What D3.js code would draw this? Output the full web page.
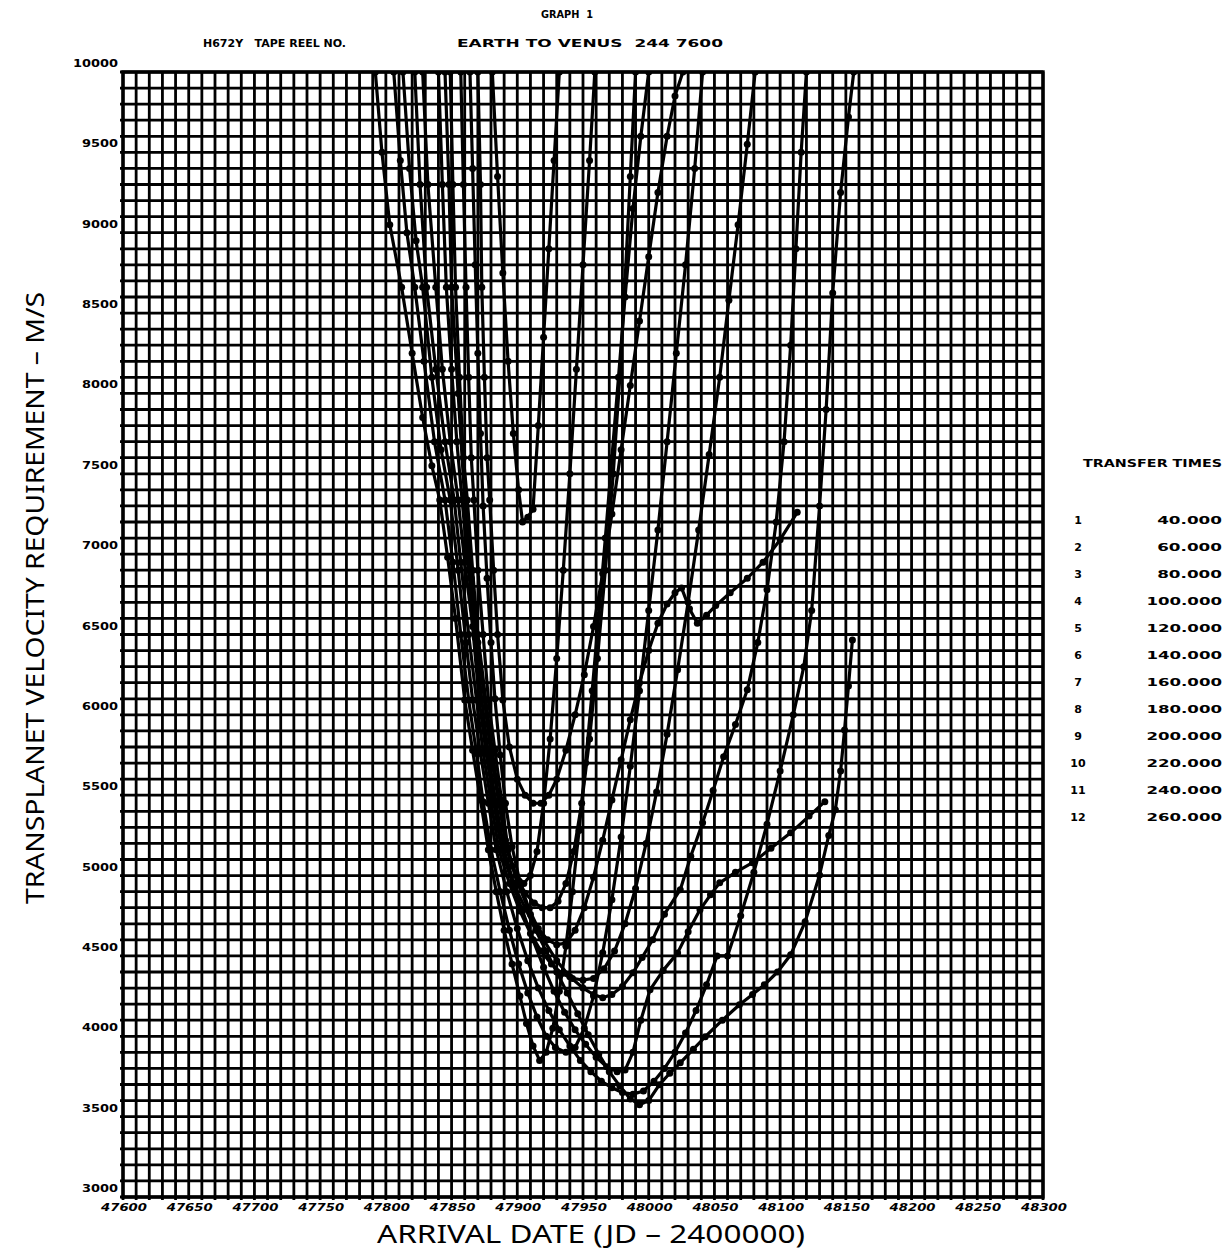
<!DOCTYPE html>
<html>
<head>
<meta charset="utf-8">
<script src="https://cdn.jsdelivr.net/npm/d3@7/dist/d3.min.js"></script>
<style>
  html, body { margin: 0; padding: 0; background: #fff; }
  svg { display: block; }
  .lbl { font-family: 'DejaVu Sans', sans-serif; font-weight: bold; font-size: 11px; fill: #000; white-space: pre; }
  .axis-title { font-family: 'Noto Sans', 'DejaVu Sans', sans-serif; font-size: 26px; fill: #000; }
</style>
</head>
<body>
<svg id="chart" width="1228" height="1256"></svg>
<script>
// tick labels
const xTicks = [47600, 47650, 47700, 47750, 47800, 47850, 47900, 47950, 48000, 48050, 48100, 48150, 48200, 48250, 48300];
const yTicks = [3000, 3500, 4000, 4500, 5000, 5500, 6000, 6500, 7000, 7500, 8000, 8500, 9000, 9500, 10000];

// legend
const legendNums = ['1', '2', '3', '4', '5', '6', '7', '8', '9', '10', '11', '12'];
const legendDays = ['40.000', '60.000', '80.000', '100.000', '120.000', '140.000', '160.000', '180.000', '200.000', '220.000', '240.000', '260.000'];

// curves: [arrival date (JD - 2400000), velocity m/s]
const curve01 = [[47881,10000],[47885,9350],[47889,8750],[47893,8200],[47897,7750],[47901,7400],[47904,7200],[47908,7230],[47912,7280],[47916,7800],[47920,8350],[47924,8900],[47928,9450],[47932,10000]];
const curve02 = [[47870,10000],[47872,9300],[47873,8660],[47875,8100],[47877,7600],[47879,7337],[47882,6900],[47885,6500],[47889,6093],[47894,5800],[47900,5600],[47906,5500],[47912,5450],[47918,5450],[47924,5500],[47930,5600],[47937,5780],[47944,6000],[47951,6250],[47958,6550],[47965,6880],[47972,7250],[47979,7650],[47986,8050],[47993,8450],[48000,8850],[48007,9250],[48014,9600],[48020,9850],[48026,10000]];
const curve03 = [[47849,10000],[47851,9300],[47853,8660],[47856,8100],[47859,7600],[47862,7337],[47866,6900],[47870,6500],[47876,6093],[47881,5780],[47886,5470],[47891,5220],[47896,5060],[47901,4970],[47905,4950],[47910,5000],[47915,5150],[47920,5450],[47925,5850],[47930,6350],[47935,6900],[47940,7500],[47945,8150],[47950,8800],[47955,9450],[47959,10000]];
const curve04 = [[47857,10000],[47859,9300],[47861,8660],[47863,8100],[47865,7600],[47867,7337],[47870,6900],[47874,6500],[47878,6093],[47883,5780],[47888,5470],[47893,5160],[47899,5000],[47906,4890],[47913,4830],[47919,4800],[47925,4800],[47931,4840],[47937,4950],[47943,5150],[47949,5450],[47955,5850],[47961,6350],[47967,6900],[47973,7500],[47978,8100],[47982,8700],[47986,9350],[47990,10000]];
const curve05 = [[47864,10000],[47866,9400],[47868,8800],[47870,8250],[47872,7750],[47874,7300],[47877,6850],[47880,6450],[47883,6100],[47887,5750],[47891,5450],[47896,5180],[47902,4960],[47909,4790],[47916,4670],[47923,4600],[47930,4570],[47937,4580],[47944,4660],[47951,4800],[47958,4990],[47965,5220],[47972,5470],[47979,5720],[47986,5970],[47993,6200],[48000,6400],[48007,6570],[48014,6690],[48020,6760],[48025,6790],[48031,6660],[48037,6570],[48044,6620],[48051,6680],[48062,6760],[48075,6850],[48087,6950],[48100,7090],[48113,7260]];
const curve06 = [[47822,10000],[47826,9300],[47831,8660],[47838,8150],[47845,7700],[47852,7337],[47857,6950],[47863,6500],[47869,6093],[47874,5770],[47880,5460],[47886,5160],[47894,4950],[47902,4780],[47910,4640],[47918,4530],[47926,4450],[47934,4390],[47942,4360],[47950,4350],[47958,4360],[47966,4420],[47974,4530],[47982,4700],[47990,4920],[47998,5200],[48006,5520],[48014,5880],[48022,6280],[48030,6700],[48038,7150],[48046,7620],[48054,8100],[48061,8580],[48068,9050],[48075,9550],[48081,10000]];
const curve07 = [[47845,10000],[47848,9300],[47850,8660],[47855,8000],[47860,7337],[47865,6850],[47870,6450],[47875,6093],[47880,5750],[47886,5450],[47892,5160],[47900,4960],[47910,4760],[47920,4600],[47930,4470],[47940,4370],[47950,4300],[47958,4260],[47965,4240],[47972,4260],[47980,4310],[47988,4395],[47995,4490],[48003,4601],[48012,4760],[48024,4912],[48032,5120],[48041,5329],[48049,5530],[48057,5739],[48066,5940],[48075,6156],[48083,6450],[48090,6778],[48097,7200],[48103,7700],[48108,8300],[48112,8900],[48116,9500],[48120,10000]];
const curve08 = [[47792,10000],[47797,9500],[47803,9050],[47812,8660],[47820,8250],[47828,7850],[47835,7550],[47841,7337],[47847,6980],[47853,6600],[47860,6093],[47866,5780],[47872,5470],[47878,5160],[47884,4900],[47890,4660],[47896,4450],[47902,4250],[47907,4080],[47912,3940],[47917,3850],[47922,3900],[47927,4050],[47932,4280],[47937,4560],[47942,4900],[47947,5280],[47952,5700],[47957,6150],[47962,6620],[47967,7100],[47972,7600],[47977,8100],[47982,8600],[47988,9150],[47994,9600],[48000,10000]];
const curve09 = [[47806,10000],[47811,9450],[47816,9000],[47822,8660],[47829,8200],[47837,7700],[47845,7337],[47851,6950],[47857,6500],[47863,6093],[47869,5760],[47874,5460],[47880,5160],[47887,4900],[47894,4660],[47901,4450],[47908,4270],[47915,4120],[47922,4000],[47929,3930],[47937,3900],[47944,3930],[47951,4050],[47958,4250],[47965,4520],[47972,4850],[47979,5240],[47986,5680],[47993,6150],[48000,6650],[48007,7150],[48014,7700],[48021,8250],[48028,8800],[48035,9400],[48041,10000]];
const curve10 = [[47828,10000],[47832,9300],[47838,8660],[47843,8150],[47849,7700],[47855,7337],[47860,6950],[47866,6550],[47871,6093],[47876,5780],[47882,5460],[47888,5160],[47896,4960],[47904,4780],[47912,4600],[47920,4430],[47928,4280],[47936,4150],[47944,4040],[47952,3950],[47960,3870],[47968,3810],[47976,3780],[47982,3790],[47988,3900],[47994,4100],[48001,4289],[48011,4410],[48022,4519],[48030,4650],[48039,4787],[48047,4880],[48054,4955],[48066,5020],[48079,5080],[48093,5170],[48108,5266],[48122,5370],[48134,5460]];
const curve11 = [[47813,10000],[47818,9400],[47823,8950],[47828,8660],[47835,8100],[47842,7650],[47849,7337],[47855,6900],[47861,6450],[47866,6093],[47872,5760],[47878,5450],[47884,5160],[47892,4900],[47900,4670],[47908,4470],[47916,4300],[47924,4160],[47932,4040],[47940,3940],[47948,3850],[47956,3780],[47964,3720],[47972,3680],[47980,3650],[47988,3640],[47996,3660],[48004,3720],[48012,3800],[48020,3900],[48028,4020],[48036,4160],[48044,4320],[48052,4500],[48060,4500],[48070,4750],[48080,5020],[48090,5320],[48100,5650],[48110,6000],[48118,6300],[48124,6650],[48130,7300],[48135,7900],[48140,8625],[48146,9250],[48152,9720],[48156,10000]];
const curve12 = [[47840,10000],[47843,9300],[47846,8660],[47850,8150],[47854,7700],[47858,7337],[47863,6900],[47868,6480],[47873,6093],[47878,5750],[47884,5440],[47890,5160],[47898,4930],[47906,4800],[47914,4660],[47922,4530],[47930,4400],[47938,4270],[47946,4140],[47954,4010],[47962,3890],[47970,3780],[47978,3690],[47986,3610],[47993,3574],[48000,3600],[48008,3698],[48016,3770],[48024,3835],[48034,3920],[48043,3997],[48056,4100],[48069,4196],[48079,4260],[48088,4320],[48098,4400],[48108,4507],[48119,4712],[48130,5004],[48137,5250],[48142,5409],[48146,5650],[48149,5906],[48152,6180],[48155,6466]];

const curves = [curve01, curve02, curve03, curve04, curve05, curve06, curve07, curve08, curve09, curve10, curve11, curve12];

const svg = d3.select('#chart');
const plotLeft = 123, plotRight = 1043, plotTop = 72, plotBottom = 1197;

const x = d3.scaleLinear().domain([47600, 48300]).range([plotLeft, plotRight]);
const y = d3.scaleLinear().domain([3000, 10000]).range([plotBottom, plotTop]);

svg.append('rect').attr('width', 1228).attr('height', 1256).attr('fill', '#fff');

// fine grid: every 10 days, every 100 m/s
const grid = svg.append('g').attr('stroke', '#000').attr('stroke-width', 2.8);
grid.selectAll('line.gx')
  .data(d3.range(47600, 48301, 10))
  .join('line')
  .attr('class', 'gx')
  .attr('x1', d => x(d)).attr('x2', d => x(d))
  .attr('y1', plotTop).attr('y2', plotBottom + 3);
grid.selectAll('line.gy')
  .data(d3.range(3000, 10001, 100))
  .join('line')
  .attr('class', 'gy')
  .attr('x1', plotLeft - 3).attr('x2', plotRight)
  .attr('y1', d => y(d)).attr('y2', d => y(d));

svg.append('rect')
  .attr('x', plotLeft).attr('y', plotTop)
  .attr('width', plotRight - plotLeft).attr('height', plotBottom - plotTop)
  .attr('fill', 'none').attr('stroke', '#000').attr('stroke-width', 3.4);

// axis labels
svg.append('g').selectAll('text')
  .data(yTicks)
  .join('text')
  .attr('class', 'lbl')
  .attr('x', 118).attr('y', d => y(d) - 5)
  .attr('text-anchor', 'end')
  .attr('textLength', d => String(d).length * 9)
  .attr('lengthAdjust', 'spacingAndGlyphs')
  .text(d => d);

svg.append('g').selectAll('text')
  .data(xTicks)
  .join('text')
  .attr('class', 'lbl')
  .attr('font-style', 'italic')
  .attr('x', d => x(d) + 1).attr('y', plotBottom + 14)
  .attr('text-anchor', 'middle')
  .attr('textLength', 46)
  .attr('lengthAdjust', 'spacingAndGlyphs')
  .text(d => d);

// curves
svg.append('clipPath').attr('id', 'plot-clip')
  .append('rect').attr('x', plotLeft).attr('y', plotTop)
  .attr('width', plotRight - plotLeft).attr('height', plotBottom - plotTop);

const line = d3.line().x(d => x(d[0])).y(d => y(d[1]));
const plot = svg.append('g').attr('clip-path', 'url(#plot-clip)');

plot.selectAll('path.curve')
  .data(curves)
  .join('path')
  .attr('class', 'curve')
  .attr('d', line)
  .attr('fill', 'none')
  .attr('stroke', '#000')
  .attr('stroke-width', 3.2)
  .attr('stroke-linejoin', 'round');

plot.selectAll('g.dots')
  .data(curves)
  .join('g')
  .attr('class', 'dots')
  .selectAll('circle')
  .data(d => d)
  .join('circle')
  .attr('cx', d => x(d[0])).attr('cy', d => y(d[1]))
  .attr('r', 3.5)
  .attr('fill', '#000');

// headings
svg.append('text').attr('class', 'lbl').attr('x', 541).attr('y', 18)
  .attr('textLength', 52).attr('lengthAdjust', 'spacingAndGlyphs').text('GRAPH  1');
svg.append('text').attr('class', 'lbl').attr('x', 203).attr('y', 47)
  .attr('textLength', 143).attr('lengthAdjust', 'spacingAndGlyphs').text('H672Y   TAPE REEL NO.');
svg.append('text').attr('class', 'lbl').attr('x', 457).attr('y', 47)
  .attr('textLength', 266).attr('lengthAdjust', 'spacingAndGlyphs').text('EARTH TO VENUS  244 7600');

// legend
svg.append('text').attr('class', 'lbl').attr('x', 1083).attr('y', 467)
  .attr('textLength', 139).attr('lengthAdjust', 'spacingAndGlyphs').text('TRANSFER TIMES');

const legend = svg.append('g');
legend.selectAll('text.num')
  .data(legendNums)
  .join('text')
  .attr('class', 'lbl num')
  .attr('x', 1078).attr('y', (d, i) => 524 + i * 27)
  .attr('text-anchor', 'middle')
  .text(d => d);
legend.selectAll('text.val')
  .data(legendDays)
  .join('text')
  .attr('class', 'lbl val')
  .attr('x', 1222).attr('y', (d, i) => 524 + i * 27)
  .attr('text-anchor', 'end')
  .attr('textLength', d => d.length * 10.8)
  .attr('lengthAdjust', 'spacingAndGlyphs')
  .text(d => d);

// axis titles
svg.append('text').attr('class', 'axis-title')
  .attr('transform', 'translate(44,598) rotate(-90)')
  .attr('text-anchor', 'middle')
  .attr('textLength', 612).attr('lengthAdjust', 'spacingAndGlyphs')
  .text('TRANSPLANET VELOCITY REQUIREMENT – M/S');
svg.append('text').attr('class', 'axis-title')
  .attr('x', 591).attr('y', 1243)
  .attr('text-anchor', 'middle')
  .attr('textLength', 428).attr('lengthAdjust', 'spacingAndGlyphs')
  .text('ARRIVAL DATE (JD – 2400000)');
</script>
</body>
</html>
